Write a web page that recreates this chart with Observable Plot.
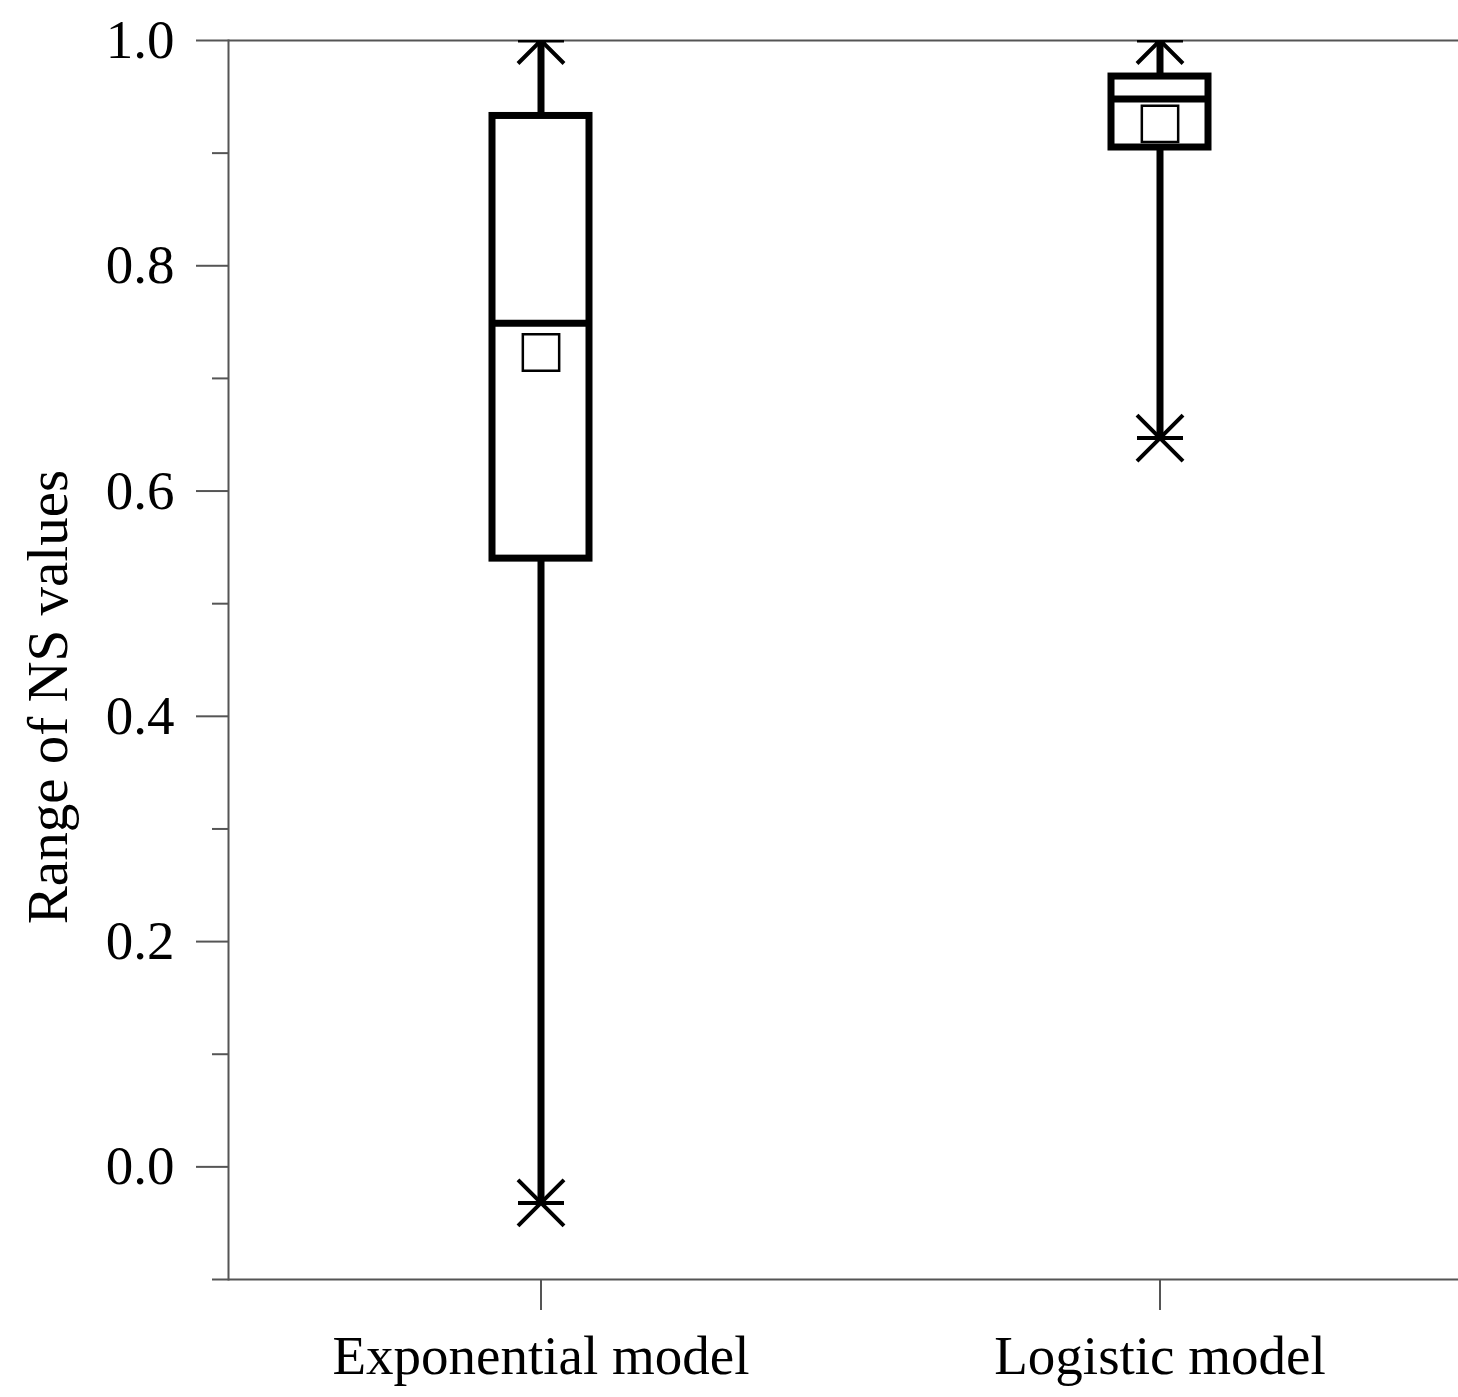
<!DOCTYPE html>
<html>
<head>
<meta charset="utf-8">
<script src="https://cdn.jsdelivr.net/npm/d3@7"></script>
<script src="https://cdn.jsdelivr.net/npm/@observablehq/plot@0.6"></script>
<style>
  body { margin: 0; background: #fff; }
</style>
</head>
<body>
<div id="chart"></div>
<script>
// ---- data ----
const models = ["Exponential model", "Logistic model"];
const minVals = [-0.032, 0.647];
const q1Vals = [0.540, 0.905];
const medianVals = [0.749, 0.948];
const meanVals = [0.723, 0.926];
const q3Vals = [0.933, 0.968];
const maxVals = [1.0, 1.0];
const majorTicks = [0.0, 0.2, 0.4, 0.6, 0.8, 1.0];
const minorTicks = [-0.1, 0.1, 0.3, 0.5, 0.7, 0.9];
const yLabel = "Range of NS values";

const rows = models.map((m, i) => ({
  model: m, min: minVals[i], q1: q1Vals[i], median: medianVals[i],
  mean: meanVals[i], q3: q3Vals[i], max: maxVals[i]
}));
const extremes = rows.flatMap(d => [{model: d.model, v: d.min}, {model: d.model, v: d.max}]);

const asterisk = {
  draw(context, size) {
    const r = Math.sqrt(size / Math.PI);
    context.moveTo(-r, 0); context.lineTo(r, 0);
    context.moveTo(-r, -r); context.lineTo(r, r);
    context.moveTo(-r, r); context.lineTo(r, -r);
  }
};

const axisColor = "#555";
const fontFamily = "'Liberation Serif', 'Times New Roman', serif";

const chart = Plot.plot({
  width: 1458,
  height: 1397,
  marginLeft: 228,
  marginRight: 0,
  marginTop: 40,
  marginBottom: 118,
  style: {fontFamily, fontSize: "55px", color: "#000", background: "#fff"},
  x: {type: "band", domain: models, range: [491.5, 1208.5], paddingInner: 0.8435, paddingOuter: 0},
  y: {domain: [-0.1, 1.0]},
  marks: [
    Plot.ruleY([-0.1, 1.0], {stroke: axisColor, strokeWidth: 2}),
    Plot.frame({anchor: "left", stroke: axisColor, strokeWidth: 2}),
    Plot.axisY({ticks: minorTicks, tickSize: 16, tickFormat: null, text: null, label: null, stroke: axisColor, strokeWidth: 2}),
    Plot.axisY({ticks: majorTicks, tickSize: 32, tickPadding: 22, tickFormat: d3.format(".1f"), label: null, stroke: axisColor, strokeWidth: 2, fill: "#000", fontSize: 55}),
    Plot.axisX({tickSize: 31, tickPadding: 24, label: null, stroke: axisColor, strokeWidth: 2, fill: "#000", fontSize: 55}),
    Plot.text([yLabel], {frameAnchor: "left", textAnchor: "middle", dx: -180, dy: 37, rotate: -90, fontSize: 57, fill: "#000"}),
    // whiskers
    Plot.ruleX(rows, {x: "model", y1: "q3", y2: "max", stroke: "#000", strokeWidth: 7}),
    Plot.ruleX(rows, {x: "model", y1: "min", y2: "q1", stroke: "#000", strokeWidth: 7}),
    // boxes
    Plot.barY(rows, {x: "model", y1: "q1", y2: "q3", fill: "#fff", stroke: "#000", strokeWidth: 7}),
    Plot.tickY(rows, {x: "model", y: "median", stroke: "#000", strokeWidth: 7}),
    // mean
    Plot.dot(rows, {x: "model", y: "mean", symbol: "square", r: 20.5, fill: "#fff", stroke: "#000", strokeWidth: 2.5}),
    // min / max asterisks
    Plot.dot(extremes, {x: "model", y: "v", symbol: asterisk, r: 23, fill: "none", stroke: "#000", strokeWidth: 4, clip: true})
  ]
});
document.getElementById("chart").append(chart);
</script>
</body>
</html>
